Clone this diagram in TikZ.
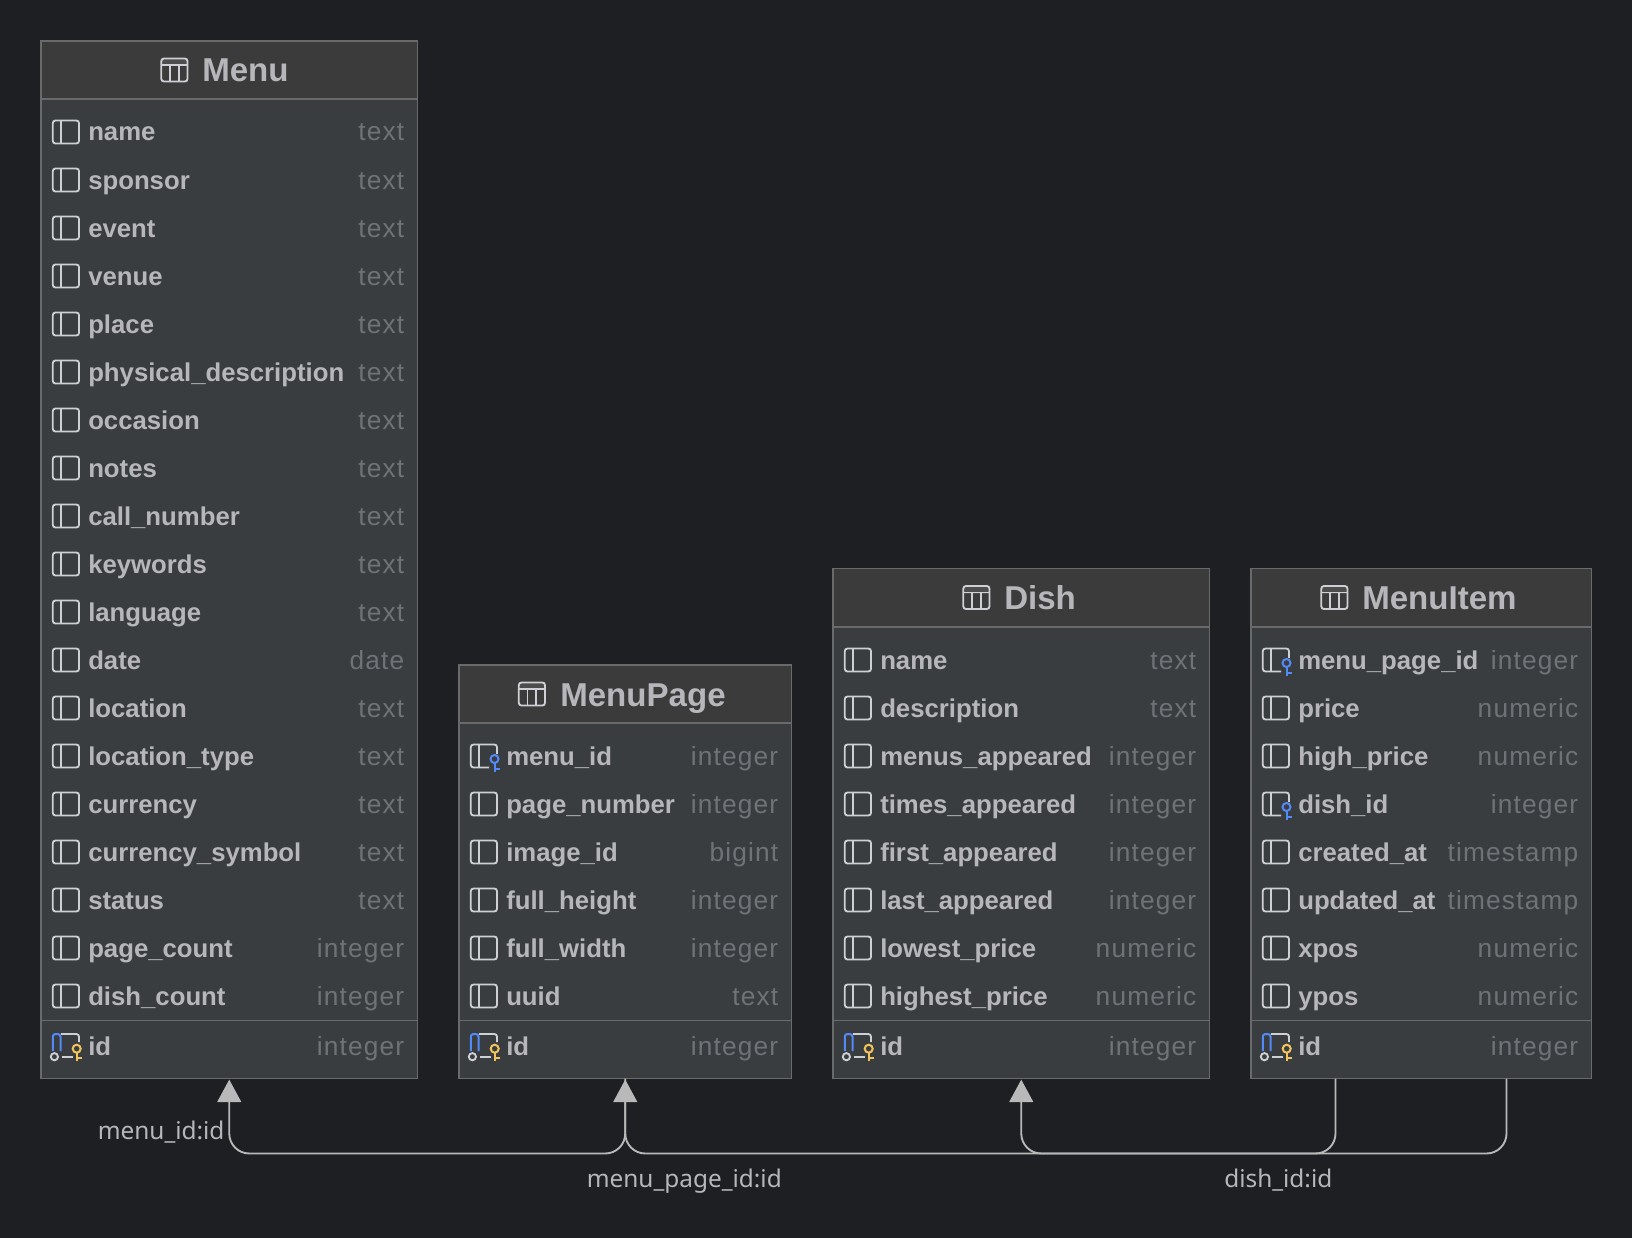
\documentclass[tikz,border=0pt]{standalone}
\usepackage{fontspec}
\setmainfont{Liberation Sans}
\newfontfamily\typefont[LetterSpace=4.5]{Liberation Sans}
\newfontfamily\labelfont{Noto Sans}
\usetikzlibrary{arrows.meta}
\definecolor{bgc}{HTML}{1E1F22}
\definecolor{headc}{HTML}{3C3B3B}
\definecolor{bodyc}{HTML}{3A3D40}
\definecolor{edgec}{HTML}{696A6B}
\definecolor{namec}{HTML}{B6B6BB}
\definecolor{typec}{HTML}{6F7277}
\definecolor{iconc}{HTML}{CED0D6}
\definecolor{linkc}{HTML}{B9B9B9}
\definecolor{bluec}{HTML}{548AF7}
\definecolor{goldc}{HTML}{F2C55C}
\newcount\rowno
\tikzset{
  tablebox/.style={draw=edgec,fill=bodyc,line width=1pt,inner sep=0pt,outer sep=0pt},
  rule/.style={draw=edgec,line width=1.4pt},
  titletext/.style={anchor=base west,inner sep=0pt,text=namec,font=\fontsize{24.8}{28}\selectfont\bfseries},
  nametext/.style={anchor=base west,inner sep=0pt,text=namec,font=\fontsize{19.3}{24}\selectfont\bfseries},
  typetext/.style={anchor=base east,inner sep=0pt,text=typec,font=\fontsize{19.7}{24}\selectfont\typefont},
  linklabel/.style={anchor=base west,inner sep=0pt,text=namec,font=\fontsize{18.3}{22}\selectfont\labelfont},
  icon/.style={draw=iconc,line width=1.4pt,rounded corners=2pt},
  iconline/.style={draw=iconc,line width=1.3pt},
  bluek/.style={draw=bluec,line width=1.5pt},
  goldk/.style={draw=goldc,line width=1.5pt},
  link/.style={draw=linkc,line width=1.4pt,rounded corners=15pt},
  linkarrow/.style={link,-{Triangle[length=17pt,width=18pt,fill=linkc]},shorten >=0.8pt},
}
% table: id, x1, y1, x2, y2, header rule y, separator y
\newcommand{\dbtable}[7]{%
  \node[tablebox,minimum width={(#4-#2)*0.75pt},minimum height={(#5-#3)*0.75pt}] (#1) at ({(#2+#4)/2},{(#3+#5)/2}) {};
  \fill[headc] (#2+1,#3+1) rectangle (#4-1,#6);
  \draw[rule] (#2,#6) -- (#4,#6);
  \draw[rule] (#2,#7) -- (#4,#7);
}
\newcommand{\titlerow}[5]{% icon x, text x, top y, id, title
  \begin{scope}[shift={(#1,#3+29)}]
    \fill[iconc,opacity=.12] (1,-11.5) rectangle (26,-4);
    \draw[icon] (0.8,-11.5) rectangle (27,11.5);
    \draw[iconline] (0.8,-5) -- (27,-5) (9.6,-5) -- (9.6,11.5) (18.2,-5) -- (18.2,11.5);
  \end{scope}
  \node[titletext] (#4) at (#2,#3+41) {#5};
}
\newcommand{\plainicon}[2]{%
  \begin{scope}[shift={(#1,#2)}]
    \draw[icon] (0.8,-11.5) rectangle (27,11.5);
    \draw[iconline] (9.2,-11.5) -- (9.2,11.5);
  \end{scope}
}
\newcommand{\fkicon}[2]{%
  \begin{scope}[shift={(#1,#2)}]
    \draw[icon] (19,11.5) -- (0.8,11.5) -- (0.8,-11.5) -- (27,-11.5) -- (27,-2);
    \draw[iconline] (9.2,-11.5) -- (9.2,11.5);
    \draw[bluek] (24.5,3) circle (4);
    \draw[bluek] (24.5,7) -- (24.5,16) (24.5,12.5) -- (30,12.5);
  \end{scope}
}
\newcommand{\pkicon}[2]{%
  \begin{scope}[shift={(#1,#2)}]
    \draw[icon] (9,-12) -- (27,-12) -- (27,-4);
    \draw[iconline] (10,10.7) -- (21,10.7);
    \draw[bluek,rounded corners=2pt] (0.8,5) -- (0.8,-12) -- (8.5,-12) -- (8.5,5);
    \draw[draw=iconc,line width=1.4pt] (2.4,10.7) circle (3.6);
    \draw[goldk] (24.7,2.7) circle (4);
    \draw[goldk] (24.7,6.7) -- (24.7,14.5) (24.7,12) -- (30,12);
  \end{scope}
}
% row: icon cmd, table left, table right, y, name, type
\newcommand{\colrow}[6]{%
  \global\advance\rowno by 1
  #1{#2+11}{#4-1}
  \node[nametext] (cn\the\rowno) at (#2+47,#4+8) {#5};
  \node[typetext] (ct\the\rowno) at (#3-13,#4+8) {#6};
}
\begin{document}
\begin{tikzpicture}[x=0.75pt,y=-0.75pt]
\useasboundingbox (0,0) rectangle (1632,1238);
\fill[bgc] (0,0) rectangle (1632,1238);

%% Menu
\dbtable{menu}{41}{41}{417.5}{1078.5}{99}{1020.5}
\titlerow{160.5}{202}{41}{menuT}{Menu}
\colrow{\plainicon}{41}{417.5}{133}{name}{text}
\colrow{\plainicon}{41}{417.5}{181}{sponsor}{text}
\colrow{\plainicon}{41}{417.5}{229}{event}{text}
\colrow{\plainicon}{41}{417.5}{277}{venue}{text}
\colrow{\plainicon}{41}{417.5}{325}{place}{text}
\colrow{\plainicon}{41}{417.5}{373}{physical\_description}{text}
\colrow{\plainicon}{41}{417.5}{421}{occasion}{text}
\colrow{\plainicon}{41}{417.5}{469}{notes}{text}
\colrow{\plainicon}{41}{417.5}{517}{call\_number}{text}
\colrow{\plainicon}{41}{417.5}{565}{keywords}{text}
\colrow{\plainicon}{41}{417.5}{613}{language}{text}
\colrow{\plainicon}{41}{417.5}{661}{date}{date}
\colrow{\plainicon}{41}{417.5}{709}{location}{text}
\colrow{\plainicon}{41}{417.5}{757}{location\_type}{text}
\colrow{\plainicon}{41}{417.5}{805}{currency}{text}
\colrow{\plainicon}{41}{417.5}{853}{currency\_symbol}{text}
\colrow{\plainicon}{41}{417.5}{901}{status}{text}
\colrow{\plainicon}{41}{417.5}{949}{page\_count}{integer}
\colrow{\plainicon}{41}{417.5}{997}{dish\_count}{integer}
\colrow{\pkicon}{41}{417.5}{1047}{id}{integer}

%% MenuPage
\dbtable{page}{459}{665}{791.5}{1078.5}{723}{1020.5}
\titlerow{518}{560}{665}{pageT}{MenuPage}
\colrow{\fkicon}{459}{791.5}{757}{menu\_id}{integer}
\colrow{\plainicon}{459}{791.5}{805}{page\_number}{integer}
\colrow{\plainicon}{459}{791.5}{853}{image\_id}{bigint}
\colrow{\plainicon}{459}{791.5}{901}{full\_height}{integer}
\colrow{\plainicon}{459}{791.5}{949}{full\_width}{integer}
\colrow{\plainicon}{459}{791.5}{997}{uuid}{text}
\colrow{\pkicon}{459}{791.5}{1047}{id}{integer}

%% Dish
\dbtable{dish}{833}{568.5}{1209.5}{1078.5}{627}{1020.5}
\titlerow{962.5}{1004}{568.5}{dishT}{Dish}
\colrow{\plainicon}{833}{1209.5}{661}{name}{text}
\colrow{\plainicon}{833}{1209.5}{709}{description}{text}
\colrow{\plainicon}{833}{1209.5}{757}{menus\_appeared}{integer}
\colrow{\plainicon}{833}{1209.5}{805}{times\_appeared}{integer}
\colrow{\plainicon}{833}{1209.5}{853}{first\_appeared}{integer}
\colrow{\plainicon}{833}{1209.5}{901}{last\_appeared}{integer}
\colrow{\plainicon}{833}{1209.5}{949}{lowest\_price}{numeric}
\colrow{\plainicon}{833}{1209.5}{997}{highest\_price}{numeric}
\colrow{\pkicon}{833}{1209.5}{1047}{id}{integer}

%% MenuItem
\dbtable{item}{1251}{568.5}{1591.5}{1078.5}{627}{1020.5}
\titlerow{1320.5}{1362}{568.5}{itemT}{MenuItem}
\colrow{\fkicon}{1251}{1591.5}{661}{menu\_page\_id}{integer}
\colrow{\plainicon}{1251}{1591.5}{709}{price}{numeric}
\colrow{\plainicon}{1251}{1591.5}{757}{high\_price}{numeric}
\colrow{\fkicon}{1251}{1591.5}{805}{dish\_id}{integer}
\colrow{\plainicon}{1251}{1591.5}{853}{created\_at}{timestamp}
\colrow{\plainicon}{1251}{1591.5}{901}{updated\_at}{timestamp}
\colrow{\plainicon}{1251}{1591.5}{949}{xpos}{numeric}
\colrow{\plainicon}{1251}{1591.5}{997}{ypos}{numeric}
\colrow{\pkicon}{1251}{1591.5}{1047}{id}{integer}

%% connectors
\coordinate (bus) at (0,1153.5);
\coordinate (itemA) at (1335.5,1078.5);
\coordinate (itemB) at (1506.5,1078.5);
\draw[linkarrow] (page.south) -- (page.south |- bus) -- (menu.south |- bus) -- (menu.south);
\draw[linkarrow] (itemB) -- (itemB |- bus) -- (page.south |- bus) -- (page.south);
\draw[linkarrow] (itemA) -- (itemA |- bus) -- (dish.south |- bus) -- (dish.south);

\node[linklabel] (l1) at (97.5,1139) {menu\_id:id};
\node[linklabel] (l2) at (586.5,1187) {menu\_page\_id:id};
\node[linklabel] (l3) at (1224,1187) {dish\_id:id};
\end{tikzpicture}
\end{document}
